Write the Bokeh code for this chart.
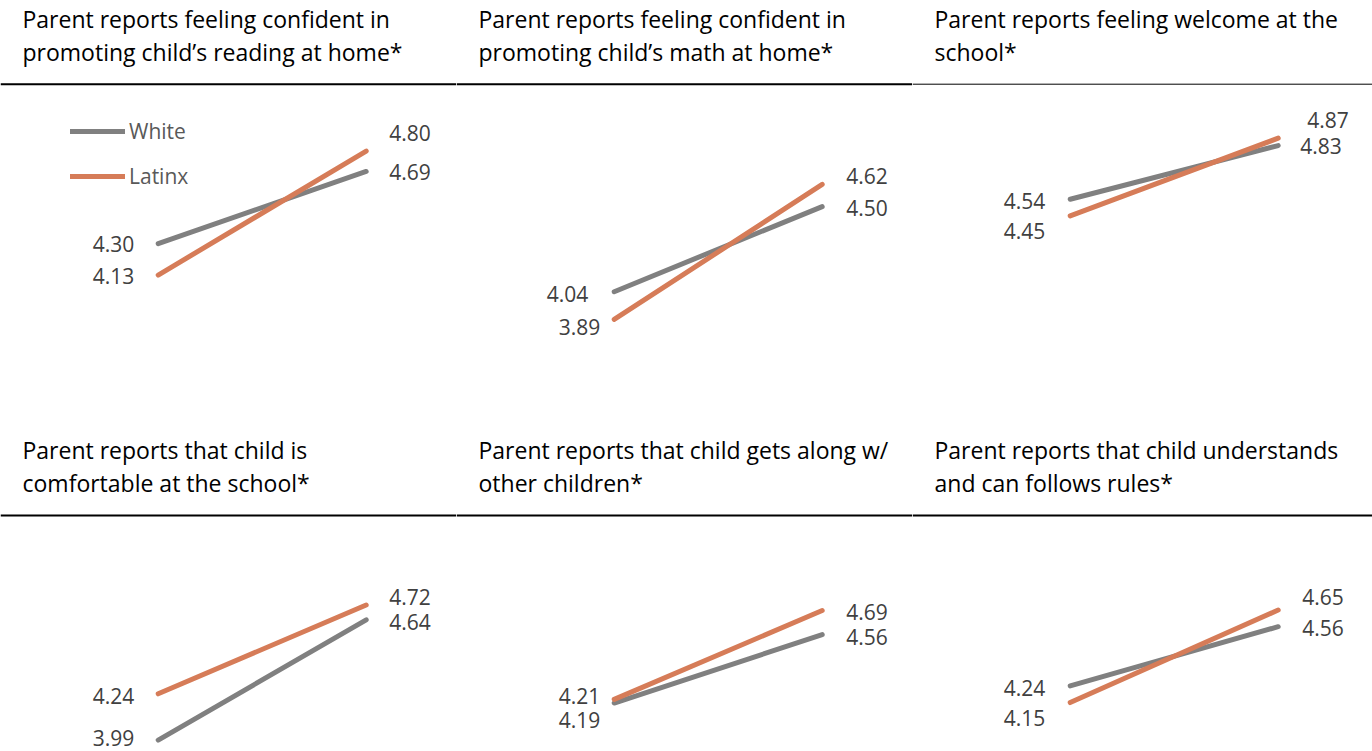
from bokeh.plotting import figure
from bokeh.models import Range1d, Span, Label, Legend, LegendItem, ColumnDataSource
from bokeh.layouts import column, row
from bokeh.embed import file_html
from bokeh.resources import INLINE
from bokeh.core.properties import value

# ---------------- data ----------------
periods = [0, 1]
series_names = ["White", "Latinx"]
titles = [
    ("Parent reports feeling confident in", "promoting child\u2019s reading at home*"),
    ("Parent reports feeling confident in", "promoting child\u2019s math at home*"),
    ("Parent reports feeling welcome at the", "school*"),
    ("Parent reports that child is", "comfortable at the school*"),
    ("Parent reports that child gets along w/", "other children*"),
    ("Parent reports that child understands", "and can follows rules*"),
]
white_start = [4.30, 4.04, 4.54, 3.99, 4.19, 4.24]
white_end = [4.69, 4.50, 4.83, 4.64, 4.56, 4.56]
latinx_start = [4.13, 3.89, 4.45, 4.24, 4.21, 4.15]
latinx_end = [4.80, 4.62, 4.87, 4.72, 4.69, 4.65]

# ---------------- layout / style ----------------
GRAY = "#808080"
ORANGE = "#D67C58"
LABEL_COLOR = "#404040"
FONT = "Open Sans"
S = 185.0      # px per value unit
XS = 208.0     # px per period
X0 = 157.7     # px of first period inside a panel
widths = [456, 456, 460]
heights = [425, 326]
v_tops = [5.6141, 5.6141, 5.6141, 5.6903, 5.6903, 5.6476]
title_base = [18, 24]
sep_px = [83.7, 90.0]
sep_w = [2, 2, 1, 2, 2, 2]
# label nudges: (dy, gap) for white-left, latinx-left, white-right, latinx-right
nudges = [
    [(0, 24), (1, 24), (1, 23), (-18, 23)],
    [(2, 26), (8, 14), (1, 24), (-8, 24)],
    [(2, 25), (15, 25), (0, 22), (-18, 29)],
    [(-2, 24), (2, 24), (2, 23), (-8, 23)],
    [(17, 14), (-3, 14), (2, 24), (1, 24)],
    [(2, 25), (15, 25), (1, 24), (-13, 24)],
]


def make_panel(i):
    w = widths[i % 3]
    h = heights[i // 3]
    vt = v_tops[i]
    p = figure(width=w, height=h, output_backend="svg", toolbar_location=None,
               x_axis_location=None, y_axis_location=None,
               x_range=Range1d(-X0 / XS, (w - X0) / XS),
               y_range=Range1d(vt - h / S, vt),
               min_border=0, outline_line_color=None)
    p.grid.visible = False
    p.background_fill_color = "white"
    p.border_fill_color = "white"

    # title lines
    for k, txt in enumerate(titles[i]):
        p.add_layout(Label(x=(22 - X0) / XS, y=vt - (title_base[i // 3] + 33 * k) / S,
                           text=txt, text_font=FONT, text_font_size="23px",
                           text_color="black", text_baseline="alphabetic",
                           text_align="left"))
    # separator
    p.add_layout(Span(location=vt - sep_px[i // 3] / S, dimension="width",
                      line_color="black", line_width=sep_w[i]))

    rw = p.line(periods, [white_start[i], white_end[i]], line_color=GRAY,
                line_width=5, line_cap="round")
    rl = p.line(periods, [latinx_start[i], latinx_end[i]], line_color=ORANGE,
                line_width=5, line_cap="round")

    n = nudges[i]
    vals = [white_start[i], latinx_start[i], white_end[i], latinx_end[i]]
    src = ColumnDataSource(dict(
        x=[periods[0], periods[0], periods[1], periods[1]],
        y=vals,
        t=["%.2f" % v for v in vals],
        xo=[-n[0][1], -n[1][1], n[2][1], n[3][1]],
        yo=[n[0][0], n[1][0], n[2][0], n[3][0]],
        al=["right", "right", "left", "left"],
    ))
    p.text(x="x", y="y", text="t", x_offset="xo", y_offset="yo", text_align="al",
           source=src, text_baseline="middle", text_font=value(FONT),
           text_font_size="21px", text_color=LABEL_COLOR)

    if i == 0:
        leg = Legend(items=[LegendItem(label=series_names[0], renderers=[rw]),
                            LegendItem(label=series_names[1], renderers=[rl])],
                     location=(70, 234), orientation="vertical",
                     glyph_width=55, glyph_height=30, label_height=30,
                     label_standoff=4, spacing=15, padding=0, margin=0,
                     border_line_color=None, background_fill_alpha=0,
                     label_text_font=FONT, label_text_font_size="21px",
                     label_text_color="#595959")
        p.add_layout(leg, "center")
    return p


panels = [make_panel(i) for i in range(6)]
layout = column(row(*panels[:3]), row(*panels[3:]))
open("out.html", "w").write(file_html(layout, INLINE))
